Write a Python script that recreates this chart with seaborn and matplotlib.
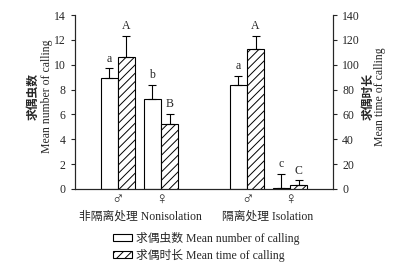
import numpy as np
import pandas as pd
import matplotlib
matplotlib.use("Agg")
import matplotlib.pyplot as plt
import seaborn as sns
from matplotlib.patches import Patch

sns.set_style("ticks")
plt.rcParams['font.family'] = ['Liberation Serif', 'Noto Sans CJK SC', 'DejaVu Sans']
plt.rcParams['hatch.linewidth'] = 0.7

# ----------------------------------
# data
# ----------------------------------
groups = ["Nonisolation", "Nonisolation", "Isolation", "Isolation"]
sexes = ["♂", "♀", "♂", "♀"]
positions = [0, 1, 3, 4]

number_mean = [8.9, 7.2, 8.4, 0.1]
number_err = [0.8, 1.15, 0.7, 1.1]
number_letters = ["a", "b", "a", "c"]

time_mean = [106, 52, 113, 3]
time_err = [17, 8.5, 10, 4]
time_letters = ["A", "B", "A", "C"]

group_labels = ["非隔离处理 Nonisolation", "隔离处理 Isolation"]

df = pd.DataFrame({"group": groups, "sex": sexes, "pos": positions,
                   "number": number_mean, "number_err": number_err,
                   "time": time_mean, "time_err": time_err})
df["pos_num"] = df["pos"] - 0.2
df["pos_time"] = df["pos"] + 0.2

fig = plt.figure(figsize=(3.98, 2.68), dpi=100)
ax = fig.add_axes([0.188, 0.295, 0.649, 0.649])
ax2 = ax.twinx()

# left axis: number of calling (white bars)
sns.barplot(data=df, x="pos_num", y="number", native_scale=True, width=0.4,
            color="white", edgecolor="black", linewidth=0.8, ax=ax,
            errorbar=None, saturation=1)
ax.errorbar(df["pos_num"], df["number"], yerr=[np.zeros(len(df)), df["number_err"]],
            fmt="none", ecolor="black", elinewidth=0.8, capsize=3, capthick=0.8)

# right axis: time of calling (hatched bars)
sns.barplot(data=df, x="pos_time", y="time", native_scale=True, width=0.4,
            color="white", edgecolor="black", linewidth=0.8, ax=ax2,
            errorbar=None, saturation=1, hatch="////")
ax2.errorbar(df["pos_time"], df["time"], yerr=[np.zeros(len(df)), df["time_err"]],
             fmt="none", ecolor="black", elinewidth=0.8, capsize=3, capthick=0.8)

for x, y, e, t in zip(df["pos_num"], df["number"], df["number_err"], number_letters):
    ax.text(x, y + e + 0.3, t, ha="center", va="bottom", fontsize=8.5)
for x, y, e, t in zip(df["pos_time"], df["time"], df["time_err"], time_letters):
    ax2.text(x, y + e + 3, t, ha="center", va="bottom", fontsize=8.5)

ax.set_xlim(-1, 5)
ax.set_ylim(0, 14)
ax2.set_ylim(0, 140)
ax.set_yticks(range(0, 15, 2))
ax2.set_yticks(range(0, 141, 20))
ax.set_xticks(positions)
ax.set_xticklabels(sexes, fontsize=12)
ax.set_xlabel("")
ax.set_ylabel("")
ax2.set_ylabel("")
ax.tick_params(axis="y", labelsize=8.5, length=3, width=0.8, direction="out")
ax2.tick_params(axis="y", labelsize=8.5, length=3, width=0.8, direction="out")
ax.tick_params(axis="x", length=0, pad=2)

for a in (ax, ax2):
    a.spines["top"].set_visible(False)
    for s in ("left", "right", "bottom"):
        a.spines[s].set_linewidth(0.8)
ax2.spines["right"].set_visible(True)

# y labels
fig.text(0.085, 0.64, "求偶虫数", rotation=90, ha="center", va="center",
         fontsize=8.5, fontweight="bold")
fig.text(0.117, 0.64, "Mean number of calling", rotation=90, ha="center",
         va="center", fontsize=8.5)
fig.text(0.925, 0.64, "求偶时长", rotation=90, ha="center", va="center",
         fontsize=8.5, fontweight="bold")
fig.text(0.956, 0.64, "Mean time of calling", rotation=90, ha="center",
         va="center", fontsize=8.5)

# group labels
fig.text(0.352, 0.19, group_labels[0], ha="center", va="center", fontsize=8.5)
fig.text(0.672, 0.19, group_labels[1], ha="center", va="center", fontsize=8.5)

handles = [Patch(facecolor="white", edgecolor="black", linewidth=0.8),
           Patch(facecolor="white", edgecolor="black", linewidth=0.8, hatch="////")]
fig.legend(handles, ["求偶虫数 Mean number of calling", "求偶时长 Mean time of calling"],
           loc="upper left", bbox_to_anchor=(0.283, 0.135), frameon=False,
           fontsize=8.5, handlelength=1.6, handleheight=0.5, handletextpad=0.4,
           labelspacing=0.35, borderpad=0, borderaxespad=0)

fig.savefig("out.png", dpi=100)
